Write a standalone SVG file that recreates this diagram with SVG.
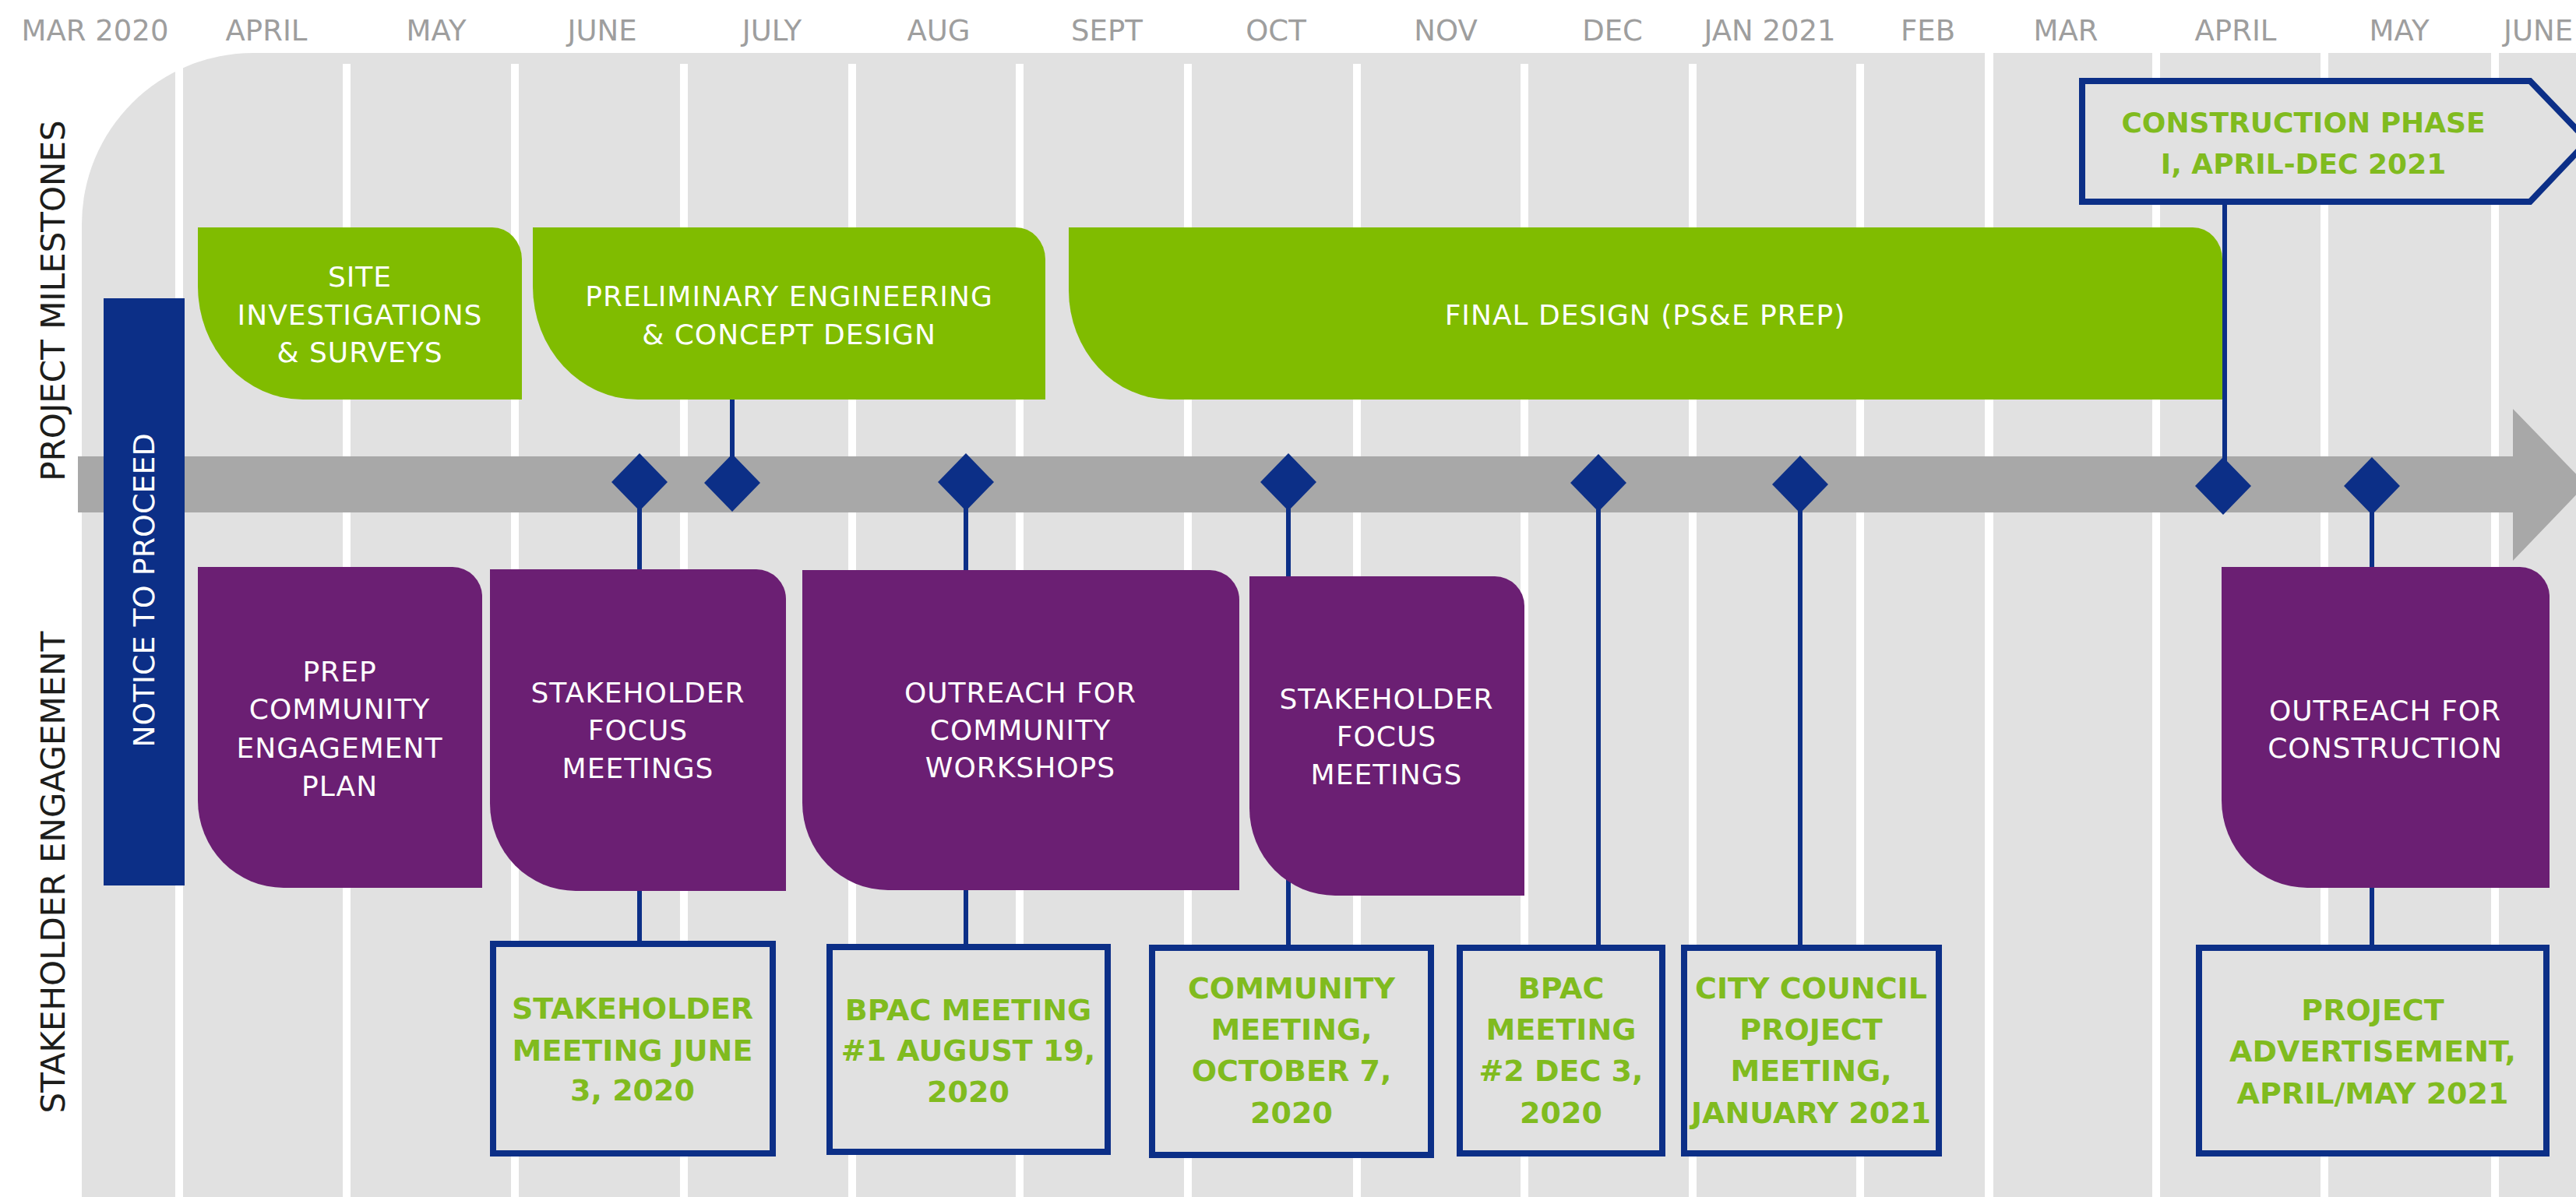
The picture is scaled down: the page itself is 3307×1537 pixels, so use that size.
<svg xmlns="http://www.w3.org/2000/svg" width="3307" height="1537" viewBox="0 0 3307 1537">
<style>
text{font-family:"DejaVu Sans","Liberation Sans",sans-serif}
.mon{font-size:37px;fill:#9e9e9e;text-anchor:middle}
.lt{font-size:36px;fill:#ffffff;text-anchor:middle;letter-spacing:1px}
.dt{font-size:38px;font-weight:bold;fill:#80bb1f;text-anchor:middle}
.side{font-size:42px;fill:#1d1d1b;text-anchor:middle}
.wl{fill:#ffffff}
.green{fill:#80bc00}
.purple{fill:#6b1f73}
.dbox{fill:#e1e1e1;stroke:#0c2f87;stroke-width:8}
.conn{stroke:#0c2f87;stroke-width:6;fill:none}
.dia{fill:#0c2f87}
</style>
<defs>
<path id="dia" d="M0,-37 L36,0 L0,37 L-36,0 Z"/>
</defs>
<rect width="3307" height="1537" fill="#ffffff"/>
<g id="months">
<text class="mon" x="122" y="52">MAR 2020</text>
<text class="mon" x="342" y="52">APRIL</text>
<text class="mon" x="560" y="52">MAY</text>
<text class="mon" x="773" y="52">JUNE</text>
<text class="mon" x="991" y="52">JULY</text>
<text class="mon" x="1205" y="52">AUG</text>
<text class="mon" x="1421" y="52">SEPT</text>
<text class="mon" x="1638" y="52">OCT</text>
<text class="mon" x="1856" y="52">NOV</text>
<text class="mon" x="2070" y="52">DEC</text>
<text class="mon" x="2272" y="52">JAN 2021</text>
<text class="mon" x="2475" y="52">FEB</text>
<text class="mon" x="2652" y="52">MAR</text>
<text class="mon" x="2870" y="52">APRIL</text>
<text class="mon" x="3080" y="52">MAY</text>
<text class="mon" x="3214" y="52" style="text-anchor:start">JUNE</text>
</g>
<g id="panel">
<path d="M105,1537 V288 A220 220 0 0 1 325,68 H3307 V1537 Z" fill="#e1e1e1"/>
<rect class="wl" x="225" y="82" width="10" height="1455"/>
<rect class="wl" x="440" y="82" width="10" height="1455"/>
<rect class="wl" x="656" y="82" width="10" height="1455"/>
<rect class="wl" x="873" y="82" width="10" height="1455"/>
<rect class="wl" x="1089" y="82" width="10" height="1455"/>
<rect class="wl" x="1304" y="82" width="10" height="1455"/>
<rect class="wl" x="1520" y="82" width="10" height="1455"/>
<rect class="wl" x="1737" y="82" width="10" height="1455"/>
<rect class="wl" x="1952" y="82" width="10" height="1455"/>
<rect class="wl" x="2168" y="82" width="10" height="1455"/>
<rect class="wl" x="2383" y="82" width="10" height="1455"/>
<rect class="wl" x="2548" y="66" width="11" height="1471"/>
<rect class="wl" x="2763" y="66" width="10" height="1471"/>
<rect class="wl" x="2979" y="66" width="10" height="1471"/>
<rect class="wl" x="3198" y="66" width="10" height="1471"/>
</g>
<g id="timeline-arrow">
<path d="M100,586 H3226 V525 L3320,622 L3226,720 V658 H100 Z" fill="#a8a8a8"/>
</g>
<g id="side-labels">
<text class="side" transform="translate(83,386) rotate(-90)">PROJECT MILESTONES</text>
<text class="side" transform="translate(83,1120) rotate(-90)">STAKEHOLDER ENGAGEMENT</text>
</g>
<g id="connectors">
<line class="conn" x1="821" y1="640" x2="821" y2="1212"/>
<line class="conn" x1="940" y1="510" x2="940" y2="600"/>
<line class="conn" x1="1240" y1="640" x2="1240" y2="1216"/>
<line class="conn" x1="1654" y1="640" x2="1654" y2="1217"/>
<line class="conn" x1="2052" y1="640" x2="2052" y2="1217"/>
<line class="conn" x1="2311" y1="640" x2="2311" y2="1217"/>
<line class="conn" x1="2856" y1="262" x2="2856" y2="600"/>
<line class="conn" x1="3045" y1="640" x2="3045" y2="1217"/>
</g>
<g id="notice-to-proceed">
<rect x="133" y="383" width="104" height="754" fill="#0c2f87"/>
<text transform="translate(198,758) rotate(-90)" style="font-size:38px;fill:#ffffff;text-anchor:middle">NOTICE TO PROCEED</text>
</g>
<g id="site-investigations">
<path class="green" d="M254,292 H632 A38 41 0 0 1 670,333 V513 H389 A135 145 0 0 1 254,368 Z"/>
<text class="lt" x="462" y="368">SITE</text>
<text class="lt" x="462" y="417">INVESTIGATIONS</text>
<text class="lt" x="462" y="465">&amp; SURVEYS</text>
</g>
<g id="preliminary-engineering">
<path class="green" d="M684,292 H1304 A38 41 0 0 1 1342,333 V513 H819 A135 145 0 0 1 684,368 Z"/>
<text class="lt" x="1013" y="393">PRELIMINARY ENGINEERING</text>
<text class="lt" x="1013" y="442">&amp; CONCEPT DESIGN</text>
</g>
<g id="final-design">
<path class="green" d="M1372,292 H2815 A38 41 0 0 1 2853,333 V513 H1502 A130 140 0 0 1 1372,373 Z"/>
<text class="lt" x="2112" y="417">FINAL DESIGN (PS&amp;E PREP)</text>
</g>
<g id="construction-phase">
<path class="dbox" d="M2673,104 H3248 L3322,181 L3248,259 H2673 Z"/>
<text class="dt" x="2957" y="170" style="font-size:36px">CONSTRUCTION PHASE</text>
<text class="dt" x="2957" y="223" style="font-size:36px">I, APRIL-DEC 2021</text>
</g>
<g id="milestones">
<use href="#dia" class="dia" x="821" y="619"/>
<use href="#dia" class="dia" x="940" y="620"/>
<use href="#dia" class="dia" x="1240" y="619"/>
<use href="#dia" class="dia" x="1654" y="619"/>
<use href="#dia" class="dia" x="2052" y="620"/>
<use href="#dia" class="dia" x="2311" y="622"/>
<use href="#dia" class="dia" x="2854" y="624"/>
<use href="#dia" class="dia" x="3045" y="624"/>
</g>
<g id="prep-community-plan">
<path class="purple" d="M254,728 H581 A38 38 0 0 1 619,766 V1140 H364 A110 112 0 0 1 254,1028 Z"/>
<text class="lt" x="436" y="875">PREP</text>
<text class="lt" x="436" y="923">COMMUNITY</text>
<text class="lt" x="436" y="973">ENGAGEMENT</text>
<text class="lt" x="436" y="1022">PLAN</text>
</g>
<g id="stakeholder-focus-1">
<path class="purple" d="M629,731 H971 A38 38 0 0 1 1009,769 V1144 H739 A110 112 0 0 1 629,1032 Z"/>
<text class="lt" x="819" y="902">STAKEHOLDER</text>
<text class="lt" x="819" y="950">FOCUS</text>
<text class="lt" x="819" y="999">MEETINGS</text>
</g>
<g id="outreach-workshops">
<path class="purple" d="M1030,732 H1553 A38 38 0 0 1 1591,770 V1143 H1140 A110 112 0 0 1 1030,1031 Z"/>
<text class="lt" x="1310" y="902">OUTREACH FOR</text>
<text class="lt" x="1310" y="950">COMMUNITY</text>
<text class="lt" x="1310" y="998">WORKSHOPS</text>
</g>
<g id="stakeholder-focus-2">
<path class="purple" d="M1604,740 H1919 A38 38 0 0 1 1957,778 V1150 H1714 A110 112 0 0 1 1604,1038 Z"/>
<text class="lt" x="1780" y="910">STAKEHOLDER</text>
<text class="lt" x="1780" y="958">FOCUS</text>
<text class="lt" x="1780" y="1007">MEETINGS</text>
</g>
<g id="outreach-construction">
<path class="purple" d="M2852,728 H3235 A38 38 0 0 1 3273,766 V1140 H2962 A110 112 0 0 1 2852,1028 Z"/>
<text class="lt" x="3062" y="925">OUTREACH FOR</text>
<text class="lt" x="3062" y="973">CONSTRUCTION</text>
</g>
<g id="stakeholder-meeting-june">
<rect class="dbox" x="633" y="1212" width="359" height="269"/>
<text class="dt" x="812" y="1308">STAKEHOLDER</text>
<text class="dt" x="812" y="1362">MEETING JUNE</text>
<text class="dt" x="812" y="1413">3, 2020</text>
</g>
<g id="bpac-meeting-1">
<rect class="dbox" x="1065" y="1216" width="357" height="263"/>
<text class="dt" x="1243" y="1310">BPAC MEETING</text>
<text class="dt" x="1243" y="1362">#1 AUGUST 19,</text>
<text class="dt" x="1243" y="1415">2020</text>
</g>
<g id="community-meeting">
<rect class="dbox" x="1479" y="1217" width="358" height="266"/>
<text class="dt" x="1658" y="1282">COMMUNITY</text>
<text class="dt" x="1658" y="1335">MEETING,</text>
<text class="dt" x="1658" y="1388">OCTOBER 7,</text>
<text class="dt" x="1658" y="1442">2020</text>
</g>
<g id="bpac-meeting-2">
<rect class="dbox" x="1874" y="1217" width="260" height="264"/>
<text class="dt" x="2004" y="1282">BPAC</text>
<text class="dt" x="2004" y="1335">MEETING</text>
<text class="dt" x="2004" y="1388">#2 DEC 3,</text>
<text class="dt" x="2004" y="1442">2020</text>
</g>
<g id="city-council-meeting">
<rect class="dbox" x="2162" y="1217" width="327" height="264"/>
<text class="dt" x="2325" y="1282">CITY COUNCIL</text>
<text class="dt" x="2325" y="1335">PROJECT</text>
<text class="dt" x="2325" y="1388">MEETING,</text>
<text class="dt" x="2325" y="1442">JANUARY 2021</text>
</g>
<g id="project-advertisement">
<rect class="dbox" x="2823" y="1217" width="446" height="264"/>
<text class="dt" x="3046" y="1310">PROJECT</text>
<text class="dt" x="3046" y="1363">ADVERTISEMENT,</text>
<text class="dt" x="3046" y="1417">APRIL/MAY 2021</text>
</g>
</svg>
